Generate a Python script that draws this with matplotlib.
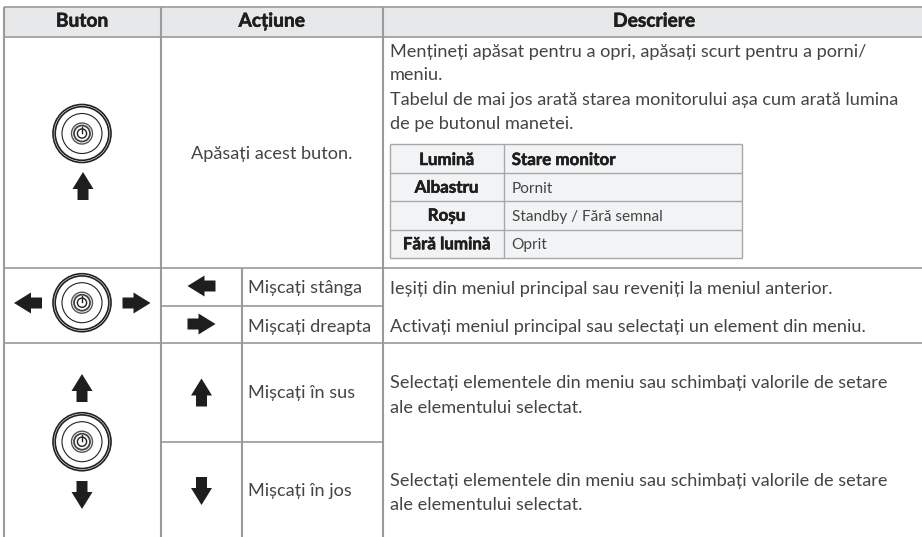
import matplotlib
matplotlib.use("Agg")
import matplotlib.pyplot as plt
import matplotlib.patheffects as pe
from matplotlib.patches import Rectangle, Circle, Polygon

plt.rcParams['font.family'] = ['Lato', 'Open Sans', 'DejaVu Sans']

W, H = 922, 537
HEADERS = ["Buton", "Acțiune", "Descriere"]
PRESS_ACTION = "Apăsați acest buton."
MOVE_ACTIONS = ["Mișcați stânga", "Mișcați dreapta", "Mișcați în sus", "Mișcați în jos"]
DESC_LINES = ["Mențineți apăsat pentru a opri, apăsați scurt pentru a porni/",
              "meniu.",
              "Tabelul de mai jos arată starea monitorului așa cum arată lumina",
              "de pe butonul manetei."]
MOVE_DESCS = ["Ieșiți din meniul principal sau reveniți la meniul anterior.",
              "Activați meniul principal sau selectați un element din meniu.",
              "Selectați elementele din meniu sau schimbați valorile de setare",
              "ale elementului selectat.",
              "Selectați elementele din meniu sau schimbați valorile de setare",
              "ale elementului selectat."]
SUB_HEAD = ["Lumină", "Stare monitor"]
SUB_LIGHT = ["Albastru", "Roșu", "Fără lumină"]
SUB_STATE = ["Pornit", "Standby / Fără semnal", "Oprit"]

fig = plt.figure(figsize=(W/100, H/100), dpi=100)
ax = fig.add_axes([0, 0, 1, 1])
ax.set_xlim(0, W); ax.set_ylim(H, 0); ax.axis('off')

LC = '#9a9a9a'; TC = '#444444'; BC = '#1e1e1e'
X0, X1, X2, X3, X4 = 3.5, 160.5, 242, 382.5, 922
Y0, Y1, Y2, Y3, Y4, Y5 = 7, 36.5, 267.5, 305.5, 343.3, 441.7

ax.add_patch(Rectangle((X0, Y0), X4-X0, Y1-Y0, fc='#e7e8e9', ec='none'))
def hl(y, a, b, lw=1.2, c=LC): ax.plot([a, b], [y, y], color=c, lw=lw, solid_capstyle='butt')
def vl(x, a, b, lw=1.5, c=LC): ax.plot([x, x], [a, b], color=c, lw=lw, solid_capstyle='butt')
for y in (Y0, Y1, Y2, Y4): hl(y, X0, X4)
hl(Y3, X1, X3); hl(Y5, X1, X3)
vl(X0, Y0, H); vl(X1, Y0, H); vl(X3, Y0, H)
vl(X2, Y2, H)

HEAVY = [pe.withStroke(linewidth=0.4, foreground=BC)]
def txt(x, y, s, size=13.1, w='normal', ha='left', c=TC, **k):
    ax.text(x, y, s, fontsize=size, fontweight=w, ha=ha, va='baseline', color=c, **k)
def btxt(x, y, s, size, ha='center'):
    txt(x, y, s, size, 'bold', ha, BC, path_effects=HEAVY)

for x, s in zip([82, 271.7, 654], HEADERS):
    btxt(x, 26.7, s, 13.8)
txt(271.7, 159.3, PRESS_ACTION, ha='center')
for y, s in zip([293.3, 331.7, 398.3, 495.7], MOVE_ACTIONS):
    txt(248, y, s)
for y, s in zip([56.7, 80.5, 104.5, 128.7], DESC_LINES):
    txt(389.5, y, s)
for y, s in zip([294, 331.7, 388.3, 412.7, 486, 510], MOVE_DESCS):
    txt(389.5, y, s)

# nested table
SX = [389.5, 504.3, 742]; SY = [144.3, 172.7, 201, 229.7, 258.3]
ax.add_patch(Rectangle((SX[0], SY[0]), SX[2]-SX[0], SY[4]-SY[0], fc='#f2f3f4', ec='none'))
for y in SY: hl(y, SX[0], SX[2], 1.0, '#a8a8a8')
for x in SX: vl(x, SY[0], SY[4], 1.0, '#a8a8a8')
LC2 = 446.5
btxt(LC2, 165, SUB_HEAD[0], 12.2)
btxt(511.7, 165, SUB_HEAD[1], 12.2, 'left')
for i in range(3):
    yb = [192.7, 220.7, 249.3][i]
    btxt(LC2, yb, SUB_LIGHT[i], 12.2)
    txt(511.7, yb, SUB_STATE[i], 11.05)

def knob(cx, cy):
    for r, lw in [(29, 1.2), (26.8, 1.2), (20, .8)]:
        ax.add_patch(Circle((cx, cy), r, fc='none', ec='#222222', lw=lw))
    ax.add_patch(Circle((cx, cy), 10.5, fc='none', ec='#555555', lw=1.0))
    ax.add_patch(Circle((cx, cy), 8, fc='none', ec='#444444', lw=1.3))
    ax.add_patch(Circle((cx, cy), 4.6, fc='none', ec='#222222', lw=1.0))
    ax.plot([cx, cx], [cy-7, cy-1], color='#222222', lw=1.0)

def arrow(cx, cy, d):
    pts = [(0, -14), (10.5, 3), (5.5, 3), (5.5, 14), (-5.5, 14), (-5.5, 3), (-10.5, 3)]
    rot = {'u': lambda p: p, 'd': lambda p: (p[0], -p[1]),
           'l': lambda p: (p[1], p[0]), 'r': lambda p: (-p[1], p[0])}[d]
    ax.add_patch(Polygon([(cx+rot(p)[0], cy+rot(p)[1]) for p in pts], fc='#1e1e1e', ec='none'))

knob(82, 133.5); arrow(83, 186, 'u')
knob(82, 302.7); arrow(28, 303, 'l'); arrow(136.5, 303, 'r')
knob(82, 441.7); arrow(82, 388, 'u'); arrow(82, 495, 'd')
arrow(201.5, 286, 'l'); arrow(201.5, 324, 'r'); arrow(201.5, 392.5, 'u'); arrow(201.5, 491, 'd')

fig.savefig('out.png', dpi=100, facecolor='white')
